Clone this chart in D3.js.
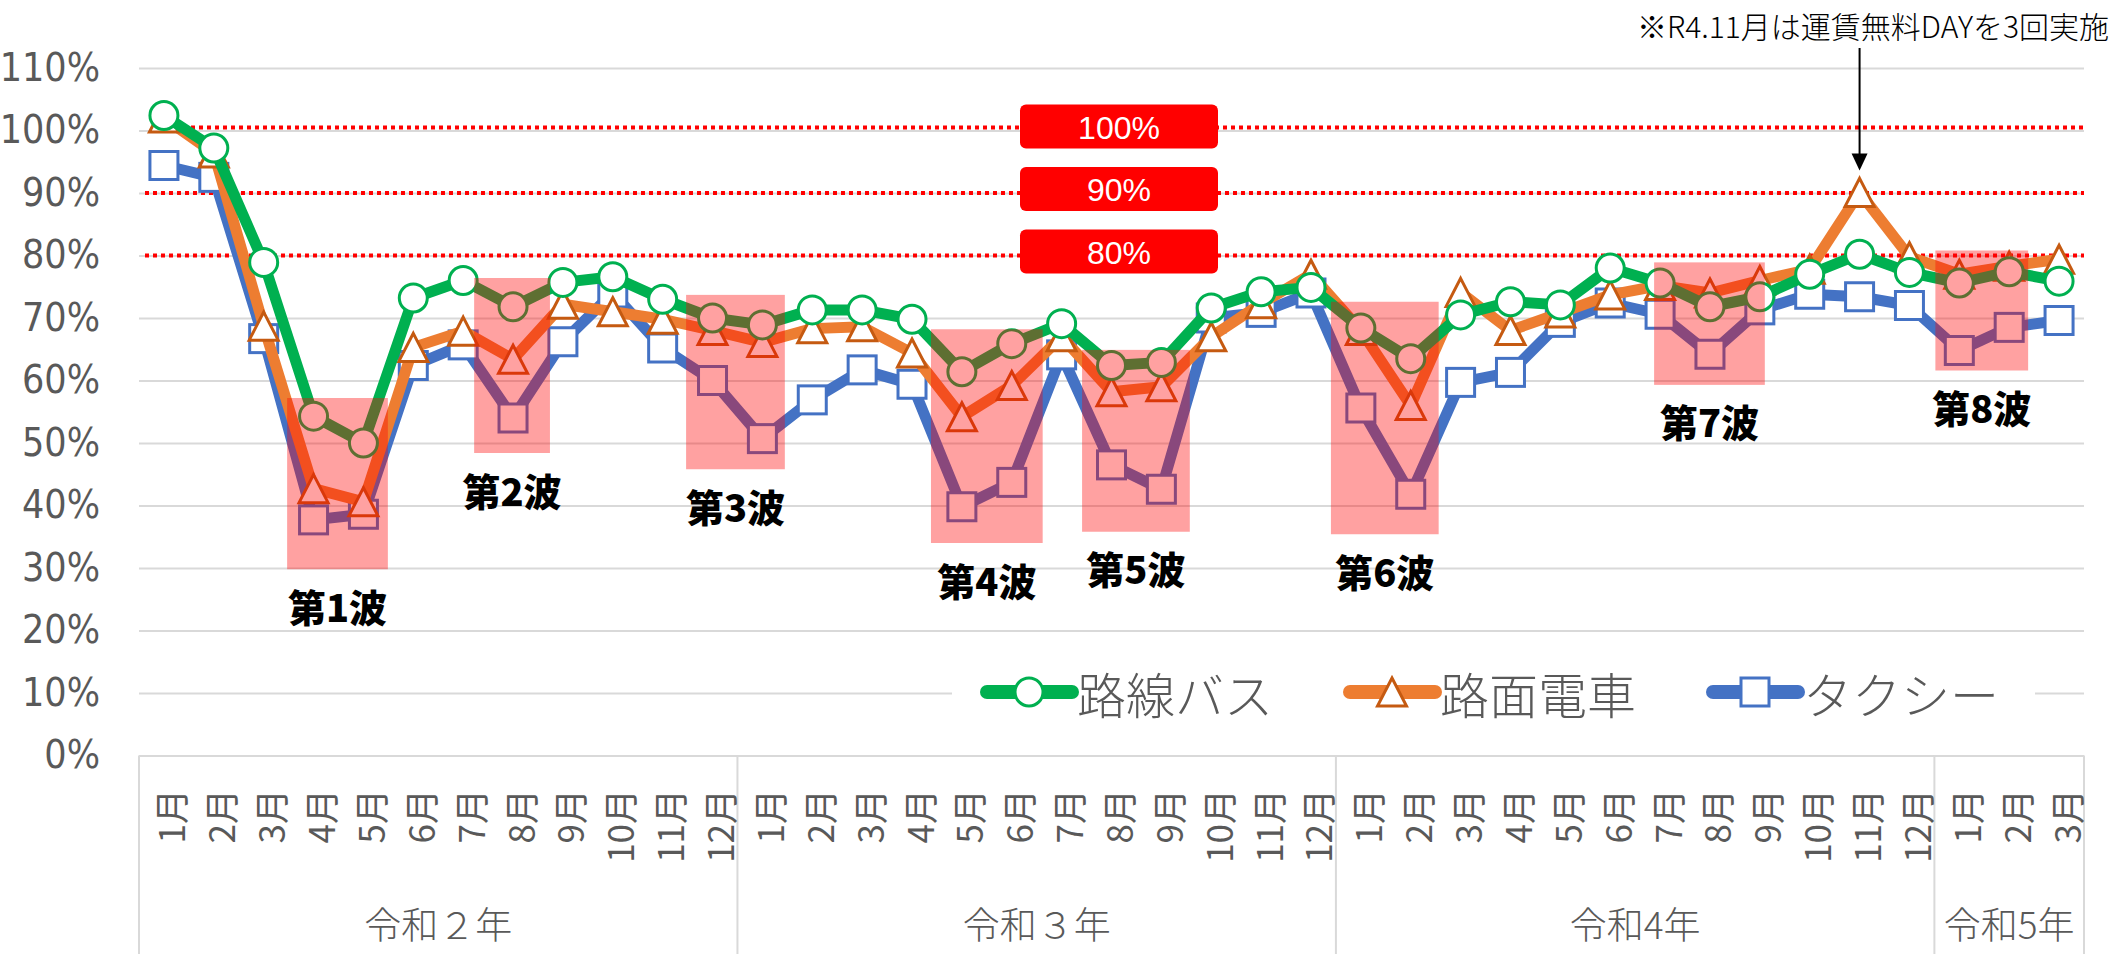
<!DOCTYPE html>
<html>
<head>
<meta charset="utf-8">
<script src="https://cdn.jsdelivr.net/npm/d3@7"></script>
<style>
  body { margin: 0; background: #fff; }
  svg { display: block; }
</style>
</head>
<body>
<svg id="chart" width="2127" height="954"></svg>
<script>
// ---- data ----
const yearGroups = ["令和２年", "令和３年", "令和4年", "令和5年"];
const monthsPerYear = [12, 12, 12, 3];
const monthNames = ["1月", "2月", "3月", "4月", "5月", "6月", "7月", "8月", "9月", "10月", "11月", "12月"];

const seriesNames = ["路線バス", "路面電車", "タクシー"];

// ridership vs. the pre-pandemic baseline (%), R2.1 .. R5.3
const busValues = [
  102.4, 97.2, 78.9, 54.3, 50.0, 73.2, 76.0, 71.8, 75.7, 76.6, 73.0, 70.0,
  68.9, 71.3, 71.3, 69.8, 61.4, 65.9, 69.1, 62.4, 62.9, 71.6, 74.2, 74.9,
  68.4, 63.5, 70.5, 72.6, 72.1, 78.0, 75.6, 71.8, 73.4, 77.0, 80.2, 77.3,
  75.6, 77.4, 75.9
];
const tramValues = [
  102.0, 96.4, 68.7, 42.7, 40.6, 65.3, 67.9, 63.4, 72.2, 71.0, 69.8, 68.0,
  66.1, 68.3, 68.6, 64.4, 54.2, 59.2, 67.0, 58.2, 59.0, 67.0, 72.3, 77.0,
  68.0, 56.0, 74.1, 68.0, 70.8, 73.7, 75.2, 74.0, 76.0, 77.8, 90.1, 79.8,
  77.0, 78.3, 79.4
];
const taxiValues = [
  94.4, 92.5, 66.7, 37.7, 38.6, 62.4, 65.7, 54.0, 66.2, 74.0, 65.2, 60.0,
  50.7, 56.9, 61.7, 59.4, 39.8, 43.7, 64.1, 46.5, 42.6, 70.0, 70.9, 74.0,
  55.6, 41.8, 59.7, 61.3, 69.3, 72.4, 70.6, 64.2, 71.3, 73.8, 73.4, 72.0,
  64.8, 68.5, 69.6
];

const yTicks = [0, 10, 20, 30, 40, 50, 60, 70, 80, 90, 100, 110];
const targetLevels = [100, 90, 80];

// infection waves: span in month positions and value range of the highlight
const waveLabels = ["第1波", "第2波", "第3波", "第4波", "第5波", "第6波", "第7波", "第8波"];
const waveStart = [2.97, 6.72, 10.97, 15.88, 18.91, 23.90, 30.38, 36.02];
const waveEnd   = [4.99, 8.24, 12.95, 18.12, 21.07, 26.06, 32.60, 37.88];
const waveLow   = [29.8, 48.4, 45.8, 34.0, 35.8, 35.4, 59.3, 61.6];
const waveHigh  = [57.2, 76.4, 73.7, 68.2, 64.9, 72.6, 78.9, 80.8];

// free-fare month (R4, 11月) and its note
const noteYear = "令和4年", noteMonth = "11月";
const noteText = "※R4.11月は運賃無料DAYを3回実施";

// ---- layout ----
const svg = d3.select("#chart");
const plotLeft = 139, plotRight = 2084, plotTop = 68, plotBottom = 755.5;
const gray = "#595959", gridColor = "#D9D9D9";
const numFont = "'Liberation Sans Narrow', 'DejaVu Sans Condensed', 'Liberation Sans', sans-serif";
const jpFont = "'Noto Sans CJK JP', 'Noto Sans', sans-serif";

const categories = [];
yearGroups.forEach((yg, g) => {
  for (let m = 0; m < monthsPerYear[g]; m++) categories.push({ year: yg, month: monthNames[m] });
});

const x = d3.scaleBand().domain(d3.range(categories.length)).range([plotLeft, plotRight]).padding(0);
const xPos = d3.scaleLinear().domain([0, categories.length]).range([plotLeft, plotRight]);
const y = d3.scaleLinear().domain([0, 110]).range([plotBottom, plotTop]);
const cx = i => x(i) + x.bandwidth() / 2;

// gridlines
svg.append("g")
  .attr("transform", `translate(${plotLeft},0)`)
  .call(d3.axisLeft(y).tickValues(yTicks).tickSize(-(plotRight - plotLeft)).tickFormat(""))
  .call(g => g.select(".domain").remove())
  .selectAll("line").attr("stroke", gridColor).attr("stroke-width", 2);

// y-axis labels
svg.append("g")
  .attr("transform", `translate(${plotLeft},0)`)
  .call(d3.axisLeft(y).tickValues(yTicks).tickSize(0).tickPadding(39).tickFormat(d => d + "%"))
  .call(g => g.select(".domain").remove())
  .selectAll("text")
  .attr("font-family", numFont).attr("font-size", 39).attr("fill", gray);

// category axis: separators between years
let acc = 0;
const bounds = [0];
monthsPerYear.forEach(n => { acc += n; bounds.push(acc); });
svg.append("g").selectAll("line").data(bounds).join("line")
  .attr("x1", d => xPos(d)).attr("x2", d => xPos(d))
  .attr("y1", plotBottom).attr("y2", 954)
  .attr("stroke", gridColor).attr("stroke-width", 2);

// month labels (rotated)
svg.append("g").selectAll("text").data(categories).join("text")
  .attr("transform", (d, i) => `translate(${cx(i) + 6},789) rotate(-90)`)
  .attr("text-anchor", "end").attr("dominant-baseline", "central")
  .attr("font-family", jpFont).attr("font-size", 35).attr("fill", gray)
  .text(d => d.month);

// year labels
svg.append("g").selectAll("text").data(yearGroups).join("text")
  .attr("x", (d, i) => xPos((bounds[i] + bounds[i + 1]) / 2))
  .attr("y", 923).attr("text-anchor", "middle").attr("dominant-baseline", "central")
  .attr("font-family", jpFont).attr("font-weight", 300).attr("font-size", 37).attr("fill", gray)
  .text(d => d);

// target reference lines
const refG = svg.append("g");
targetLevels.forEach(level => {
  refG.append("line")
    .attr("x1", level === 100 ? 183 : 145).attr("x2", plotRight)
    .attr("y1", y(level) - (level === 100 ? 3 : 0)).attr("y2", y(level) - (level === 100 ? 3 : 0))
    .attr("stroke", "#FF0000").attr("stroke-width", 4).attr("stroke-dasharray", "4 4");
});
targetLevels.forEach(level => {
  const cy = y(level) - 4;
  refG.append("rect")
    .attr("x", 1020).attr("y", cy - 22).attr("width", 198).attr("height", 44)
    .attr("rx", 6).attr("fill", "#FF0000");
  refG.append("text")
    .attr("x", 1119).attr("y", cy + 1).attr("text-anchor", "middle").attr("dominant-baseline", "central")
    .attr("font-family", "'Liberation Sans', Arial, sans-serif").attr("font-size", 32).attr("fill", "#fff")
    .text(level + "%");
});

// series
const line = d3.line().x((d, i) => cx(i)).y(d => y(d)).curve(d3.curveLinear);
const triPath = "M0,-14 L14.5,14 L-14.5,14 Z";

function drawMarker(g, kind, stroke) {
  if (kind === "circle") {
    g.append("circle").attr("r", 14).attr("fill", "#fff").attr("stroke", stroke).attr("stroke-width", 3);
  } else if (kind === "triangle") {
    g.append("path").attr("d", triPath).attr("fill", "#fff").attr("stroke", stroke).attr("stroke-width", 3).attr("stroke-linejoin", "miter");
  } else {
    g.append("rect").attr("x", -14).attr("y", -14).attr("width", 28).attr("height", 28)
      .attr("fill", "#fff").attr("stroke", stroke).attr("stroke-width", 3);
  }
}

const series = [
  { name: seriesNames[2], values: taxiValues, color: "#4472C4", marker: "square", mstroke: "#4472C4" },
  { name: seriesNames[1], values: tramValues, color: "#ED7D31", marker: "triangle", mstroke: "#C55A11" },
  { name: seriesNames[0], values: busValues, color: "#00B050", marker: "circle", mstroke: "#00B050" }
];

series.forEach(s => {
  const g = svg.append("g");
  g.append("path").attr("d", line(s.values)).attr("fill", "none")
    .attr("stroke", s.color).attr("stroke-width", 11)
    .attr("stroke-linejoin", "round").attr("stroke-linecap", "round");
  s.values.forEach((v, i) => {
    const mg = g.append("g").attr("transform", `translate(${cx(i)},${y(v)})`);
    drawMarker(mg, s.marker, s.mstroke);
  });
});

// wave highlights
svg.append("g").selectAll("rect").data(waveLabels).join("rect")
  .attr("x", (d, i) => xPos(waveStart[i]))
  .attr("width", (d, i) => xPos(waveEnd[i]) - xPos(waveStart[i]))
  .attr("y", (d, i) => y(waveHigh[i]))
  .attr("height", (d, i) => y(waveLow[i]) - y(waveHigh[i]))
  .attr("fill", "#FF0000").attr("fill-opacity", 0.37);

svg.append("g").selectAll("text").data(waveLabels).join("text")
  .attr("x", (d, i) => (xPos(waveStart[i]) + xPos(waveEnd[i])) / 2)
  .attr("y", (d, i) => y(waveLow[i]) + 36)
  .attr("text-anchor", "middle").attr("dominant-baseline", "central")
  .attr("font-family", jpFont).attr("font-weight", 900).attr("font-size", 38).attr("fill", "#000")
  .text(d => d);

// legend
const legend = svg.append("g");
legend.append("rect").attr("x", 952).attr("y", 632).attr("width", 1083).attr("height", 112).attr("fill", "#fff");
const legendX = [987, 1350, 1713];
[series[2], series[1], series[0]].forEach((s, k) => {
  const lg = legend.append("g").attr("transform", `translate(${legendX[k]},692)`);
  lg.append("line").attr("x1", 0).attr("x2", 85).attr("y1", 0).attr("y2", 0)
    .attr("stroke", s.color).attr("stroke-width", 14).attr("stroke-linecap", "round");
  drawMarker(lg.append("g").attr("transform", "translate(42,0)"), s.marker, s.mstroke);
  lg.append("text").attr("x", 90).attr("y", 0).attr("dominant-baseline", "central")
    .attr("font-family", jpFont).attr("font-weight", 300).attr("font-size", 49).attr("fill", gray)
    .text(s.name);
});

// note about the free-fare days and its arrow
const noteIdx = categories.findIndex(c => c.year === noteYear && c.month === noteMonth);
const arrowX = cx(noteIdx), arrowTip = y(tramValues[noteIdx]) - 22;
svg.append("line").attr("x1", arrowX).attr("x2", arrowX).attr("y1", 48).attr("y2", arrowTip - 12)
  .attr("stroke", "#000").attr("stroke-width", 2);
svg.append("path")
  .attr("d", `M${arrowX - 8},${arrowTip - 17} L${arrowX + 8},${arrowTip - 17} L${arrowX},${arrowTip} Z`)
  .attr("fill", "#000");
svg.append("text").attr("x", 2109).attr("y", 25).attr("text-anchor", "end").attr("dominant-baseline", "central")
  .attr("font-family", jpFont).attr("font-weight", 300).attr("font-size", 30).attr("fill", "#000")
  .text(noteText);
</script>
</body>
</html>
